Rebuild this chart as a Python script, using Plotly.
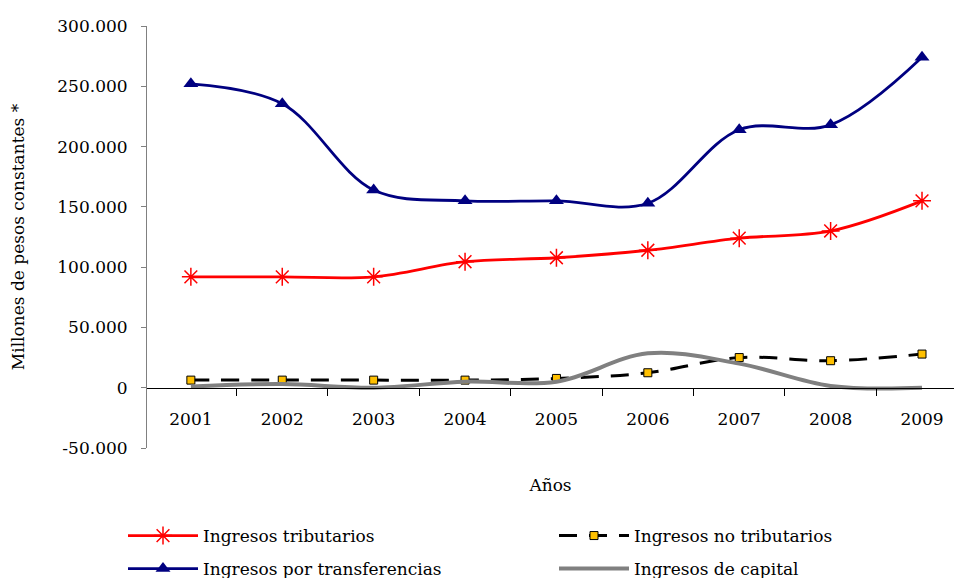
import plotly.graph_objects as go

years = [2001, 2002, 2003, 2004, 2005, 2006, 2007, 2008, 2009]
tributarios = [92000, 92000, 92000, 104500, 107800, 114000, 124000, 130000, 155000]
no_tributarios = [6300, 6300, 6300, 6300, 7700, 12400, 25000, 22400, 27900]
transferencias = [252000, 235500, 164000, 155000, 155000, 153000, 214000, 218000, 274000]
capital = [1000, 3000, 0, 5000, 5000, 28500, 20000, 1500, 0]

y_ticks = [-50000, 0, 50000, 100000, 150000, 200000, 250000, 300000]
y_ticktext = ["-50.000", "0", "50.000", "100.000", "150.000", "200.000", "250.000", "300.000"]

FONT = "DejaVu Serif"
FS = 17

fig = go.Figure()
fig.add_trace(go.Scatter(
    x=years, y=tributarios, name="Ingresos tributarios", mode="lines+markers",
    line=dict(color="#FF0000", width=2.8, shape="spline", smoothing=1),
    marker=dict(symbol="asterisk-open", size=15, line=dict(color="#FF0000", width=1.5)),
    legend="legend"))
fig.add_trace(go.Scatter(
    x=years, y=no_tributarios, name="Ingresos no tributarios", mode="lines+markers",
    line=dict(color="black", width=3, dash="18px,12px", shape="spline", smoothing=1),
    marker=dict(symbol="square", size=8, color="#FFC000", line=dict(color="black", width=1)),
    legend="legend2"))
fig.add_trace(go.Scatter(
    x=years, y=transferencias, name="Ingresos por transferencias", mode="lines+markers",
    line=dict(color="#000080", width=2.8, shape="spline", smoothing=1),
    marker=dict(symbol="triangle-up", size=13, color="#000080"),
    legend="legend3"))
fig.add_trace(go.Scatter(
    x=years, y=capital, name="Ingresos de capital", mode="lines",
    line=dict(color="#808080", width=4, shape="spline", smoothing=1),
    legend="legend4"))

def leg(x, y):
    return dict(orientation="h", xref="container", yref="container",
                x=x, xanchor="left", y=y, yanchor="middle", itemwidth=70,
                font=dict(family=FONT, size=FS), bgcolor="rgba(0,0,0,0)")

fig.update_layout(
    width=954, height=578,
    margin=dict(l=147, r=0, t=26, b=130, autoexpand=False),
    plot_bgcolor="white", paper_bgcolor="white",
    font=dict(family=FONT, size=FS, color="black"),
    showlegend=True,
    xaxis=dict(
        range=[2000.52, 2009.35], automargin=False,
        tickvals=years, ticktext=[str(y) for y in years],
        ticks="", showgrid=False, zeroline=False,
        showline=True, linecolor="black", linewidth=1,
        anchor="free", position=50000/350000,
        ticklabelstandoff=16,
        minor=dict(ticks="outside", tick0=2000.5, dtick=1, ticklen=7, tickcolor="black", showgrid=False),
        title=dict(text="Años", font=dict(family=FONT, size=FS), standoff=50),
    ),
    yaxis=dict(
        range=[-50000, 300000], automargin=False,
        tickvals=y_ticks, ticktext=y_ticktext,
        ticks="outside", ticklen=5, tickcolor="#808080",
        showgrid=False, zeroline=False,
        showline=True, linecolor="#808080", linewidth=1,
        ticklabelstandoff=10,
        title=dict(text="Millones de pesos constantes *", font=dict(family=FONT, size=FS), standoff=28),
    ),
    legend=leg(123/954, 1 - 536/578),
    legend2=leg(554/954, 1 - 536/578),
    legend3=leg(123/954, 1 - 569/578),
    legend4=leg(554/954, 1 - 569/578),
)

fig.write_html("out.html", config={"displayModeBar": False},
               post_script="document.body.style.margin='0';document.body.style.overflow='hidden';")
